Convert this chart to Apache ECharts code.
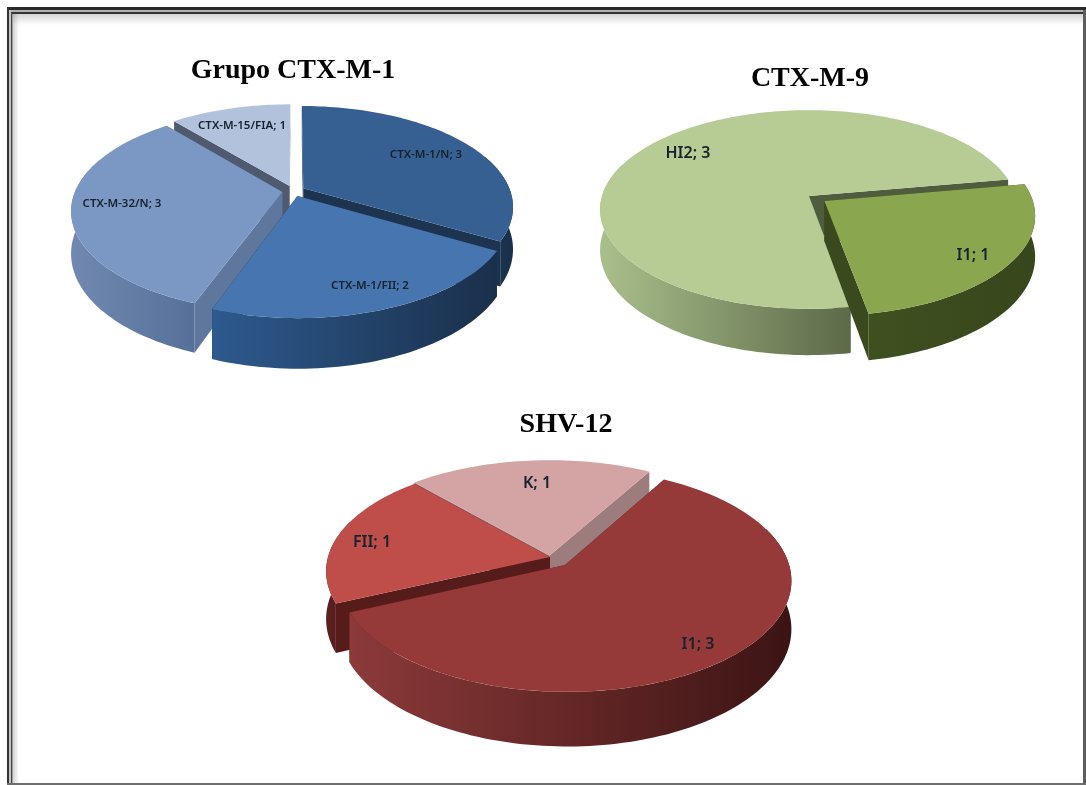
<!DOCTYPE html>
<html>
<head>
<meta charset="utf-8">
<style>html,body{margin:0;padding:0;background:#fff}#chart{width:1086px;height:785px}</style>
<script src="https://cdn.jsdelivr.net/npm/echarts@6/dist/echarts.min.js"></script>
</head>
<body>
<div id="chart"></div>
<script>
// Plasmid types per ESBL group
const titles = ['Grupo CTX-M-1', 'CTX-M-9', 'SHV-12'];

const ctxM1Names = ['CTX-M-1/N', 'CTX-M-1/FII', 'CTX-M-32/N', 'CTX-M-15/FIA'];
const ctxM1Values = [3, 2, 3, 1];

const ctxM9Names = ['HI2', 'I1'];
const ctxM9Values = [3, 1];

const shv12Names = ['I1', 'FII', 'K'];
const shv12Values = [3, 1, 1];

// Layout of each tilted disc: centre, radii, perspective strength, thickness and first slice angle
const pies = [
  {
    names: ctxM1Names, values: ctxM1Values, cx: 293.5, cy: 191, rx: 207, ry: 98, persp: 0.18, depth: 41, start: 0,
    font: 11.5,
    explode: [0.055, 0.055, 0.055, 0.055],
    top: ['#376092', '#4675af', '#7b98c4', '#b3c2dc'],
    wall: ['#1d3450', '#1d3450', '#5f769d', '#4f5a6e'],
    side: [['#1d3754', '#1a2f49'], ['#2e5a8e', '#1a2f4a'], ['#7189b0', '#56709a'], ['#8a98b0', '#8a98b0']],
    label: [[132.5, -36], [76.5, 95], [-171.5, 13], [-51.5, -65]]
  },
  {
    names: ctxM9Names, values: ctxM9Values, cx: 809, cy: 196, rx: 207, ry: 97.5, persp: 0.136, depth: 40, start: 170,
    font: 16,
    explode: [0, 0.09],
    top: ['#b6cc94', '#8aa64f'],
    wall: ['#4f5c3e', '#3b4a1e'],
    side: [['#aabf8c', '#5c6a49'], ['#3f5020', '#37461c']],
    label: [[-121, -43], [164, 59]]
  },
  {
    names: shv12Names, values: shv12Values, cx: 550, cy: 557, rx: 222, ry: 108, persp: 0.13, depth: 47, start: 30,
    font: 16,
    explode: [0.1, 0, 0.015],
    top: ['#953a39', '#bf4d4a', '#d4a3a3'],
    wall: ['#5a2020', '#561c1c', '#9c7c7c'],
    side: [['#8c3a3a', '#3c1414'], ['#5c1e1e', '#561c1c'], ['#9c7c7c', '#9c7c7c']],
    label: [[148, 87], [-178, -15], [-13, -74]]
  }
];

const rad = d => d * Math.PI / 180;

// Projects a point of the unit disc (offset by the slice's explosion) to the page
function project(p, u, v, lowered) {
  const w = 1 - p.persp * v;
  return [p.cx + p.rx * u / w, p.cy + (p.ry * v + (lowered ? p.depth : 0)) / w];
}

function discPoint(p, offset, angle, radius, lowered) {
  return project(p, offset[0] + radius * Math.sin(rad(angle)), offset[1] - radius * Math.cos(rad(angle)), lowered);
}

function arcAngles(from, to) {
  const out = [];
  for (let a = from; a < to; a += 1.5) out.push(a);
  out.push(to);
  return out;
}

function renderSlice(p, params, api) {
  const idx = api.value(2);
  const span = api.value(0) / p.total * 360;
  const from = api.value(1) % 360;
  const to = from + span;
  const mid = (from + to) / 2;
  const d = p.explode[idx];
  const offset = [d * Math.sin(rad(mid)), -d * Math.cos(rad(mid))];
  const children = [];

  // radial cut faces
  [from, to].forEach(a => {
    children.push({
      type: 'polygon',
      shape: { points: [
        discPoint(p, offset, a, 0, false), discPoint(p, offset, a, 1, false),
        discPoint(p, offset, a, 1, true), discPoint(p, offset, a, 0, true)
      ] },
      style: { fill: p.wall[idx] }
    });
  });

  // outer rim, front half only so the shading spans what can be seen
  const rimFrom = Math.max(from, 70);
  const rimTo = Math.min(to, 290);
  if (rimTo > rimFrom) {
    const arc = arcAngles(rimFrom, rimTo);
    const pts = arc.map(a => discPoint(p, offset, a, 1, false))
      .concat(arc.slice().reverse().map(a => discPoint(p, offset, a, 1, true)));
    children.push({
      type: 'polygon',
      shape: { points: pts },
      style: {
        fill: new echarts.graphic.LinearGradient(0, 0, 1, 0, [
          { offset: 0, color: p.side[idx][0] },
          { offset: 1, color: p.side[idx][1] }
        ])
      }
    });
  }

  // top face
  const topPts = [discPoint(p, offset, 0, 0, false)].concat(arcAngles(from, to).map(a => discPoint(p, offset, a, 1, false)));
  children.push({ type: 'polygon', shape: { points: topPts }, style: { fill: p.top[idx] } });

  children.push({
    type: 'text',
    style: {
      x: p.cx + p.label[idx][0],
      y: p.cy + p.label[idx][1],
      text: p.names[idx] + '; ' + api.value(0),
      fill: '#16222c',
      font: '600 ' + p.font + 'px "Noto Sans", sans-serif',
      align: 'center',
      verticalAlign: 'middle'
    }
  });
  return { type: 'group', children };
}

const series = pies.map(p => {
  p.total = p.values.reduce((a, b) => a + b, 0);
  let angle = p.start;
  const items = p.values.map((v, i) => {
    const item = { name: p.names[i], value: [v, angle, i] };
    angle += v / p.total * 360;
    return item;
  });
  // paint from the back of the disc to the front
  const depthOf = it => -Math.cos(rad(it.value[1] + it.value[0] / p.total * 180));
  items.sort((a, b) => depthOf(a) - depthOf(b));
  return {
    type: 'custom',
    coordinateSystem: 'none',
    silent: true,
    animation: false,
    data: items,
    renderItem: (params, api) => renderSlice(p, params, api)
  };
});

const titleStyle = { fontFamily: '"Liberation Serif", serif', fontWeight: 'bold', fontSize: 28, color: '#000' };

const fade = (x, y, w, h, x2, y2) => ({
  type: 'rect', silent: true, shape: { x, y, width: w, height: h },
  style: { fill: new echarts.graphic.LinearGradient(0, 0, x2, y2, [
    { offset: 0, color: 'rgba(120,120,120,0.32)' }, { offset: 1, color: 'rgba(120,120,120,0)' }
  ]) }
});
const bar = (x, y, w, h, fill) => ({ type: 'rect', silent: true, shape: { x, y, width: w, height: h }, style: { fill } });

const chart = echarts.init(document.getElementById('chart'), null, { renderer: 'canvas' });
chart.setOption({
  backgroundColor: '#fff',
  animation: false,
  title: [
    { text: titles[0], left: 293, top: 57, padding: 0, textAlign: 'center', textStyle: titleStyle },
    { text: titles[1], left: 810, top: 65, padding: 0, textAlign: 'center', textStyle: titleStyle },
    { text: titles[2], left: 566, top: 411, padding: 0, textAlign: 'center', textStyle: titleStyle }
  ],
  graphic: { elements: [
    // picture frame: double rule with a soft inner shadow
    fade(13, 14, 1070, 11, 0, 1),
    fade(13, 14, 6, 769, 1, 0),
    bar(7, 7, 1079, 3, '#2a2a2a'),
    bar(7, 10, 1079, 2, '#b0b0b0'),
    bar(11, 12, 1075, 2, '#333333'),
    bar(7, 7, 2, 778, '#333333'),
    bar(9, 10, 2, 775, '#c4c4c4'),
    bar(11, 12, 1.5, 773, '#444444'),
    bar(1083, 10, 3, 775, '#5e5e5e'),
    bar(7, 783, 1079, 2, '#6e6e6e')
  ] },
  series
});
</script>
</body>
</html>
